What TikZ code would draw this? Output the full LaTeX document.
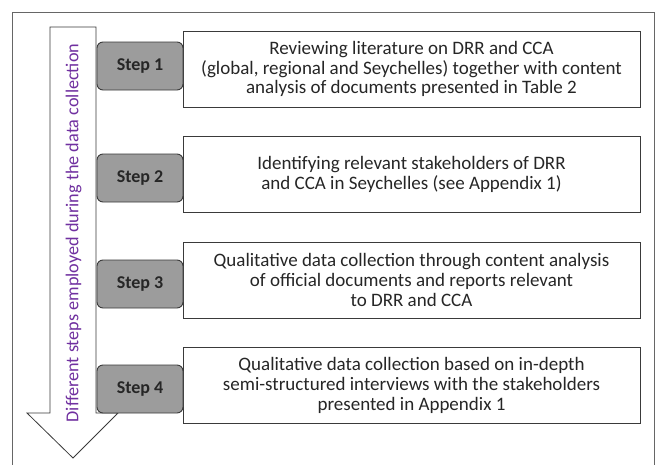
\documentclass[tikz,border=0pt]{standalone}
\usepackage{fontspec}
\setmainfont{Carlito}
\usetikzlibrary{calc}
\definecolor{stepgray}{HTML}{9C9C9C}
\definecolor{flowpurple}{HTML}{7030A0}
\definecolor{linegray}{HTML}{3A3A3A}
\tikzset{
  stepbox/.style={draw=linegray, line width=0.9pt, fill=stepgray, rounded corners=6pt,
    minimum width=86pt, minimum height=48pt, inner sep=0pt,
    font=\fontsize{18}{20}\selectfont\bfseries, text=black!85},
  textbox/.style={draw=linegray, line width=0.9pt, fill=white,
    minimum width=457pt, minimum height=76pt, inner sep=0pt, align=center,
    font=\fontsize{19}{19.8}\selectfont, text=black!85},
  flow/.style={draw=linegray, line width=0.8pt, fill=white},
}
\begin{document}
\begin{tikzpicture}[x=1pt,y=-1pt]
  \useasboundingbox (0,0) rectangle (657,464);
  % outer frame (open at the bottom edge)
  \draw[draw=gray!80!black, line width=0.8pt] (12,466) -- (12,12) -- (654.5,12) -- (654.5,466);
  % downward block arrow
  \coordinate (tip) at (73,458);
  \draw[flow] (50,27) -- (96,27) -- (96,413) -- (118,413) -- (tip) -- (27,413) -- (50,413) -- cycle;
  \node[rotate=90, text=flowpurple, font=\fontsize{18.2}{20}\selectfont] (lbl) at (73.5,233)
    {Different steps employed during the data collection};
  % descriptive boxes
  \node[textbox] (t1) at (411.5,69) {Reviewing literature on DRR and CCA\\(global, regional and Seychelles) together with content\\analysis of documents presented in Table 2};
  \node[textbox] (t2) at (411.5,174.5) {Identifying relevant stakeholders of DRR\\and CCA in Seychelles (see Appendix 1)};
  \node[textbox] (t3) at (411.5,280) {Qualitative data collection through content analysis\\of official documents and reports relevant\\to DRR and CCA};
  \node[textbox] (t4) at (411.5,385.5) {Qualitative data collection based on in-depth\\semi-structured interviews with the stakeholders\\presented in Appendix 1};
  % step labels
  \node[stepbox] (s1) at (140,66) {Step 1};
  \node[stepbox] (s2) at (140,178) {Step 2};
  \node[stepbox] (s3) at (140,284) {Step 3};
  \node[stepbox] (s4) at (140,389) {Step 4};
\end{tikzpicture}
\end{document}
